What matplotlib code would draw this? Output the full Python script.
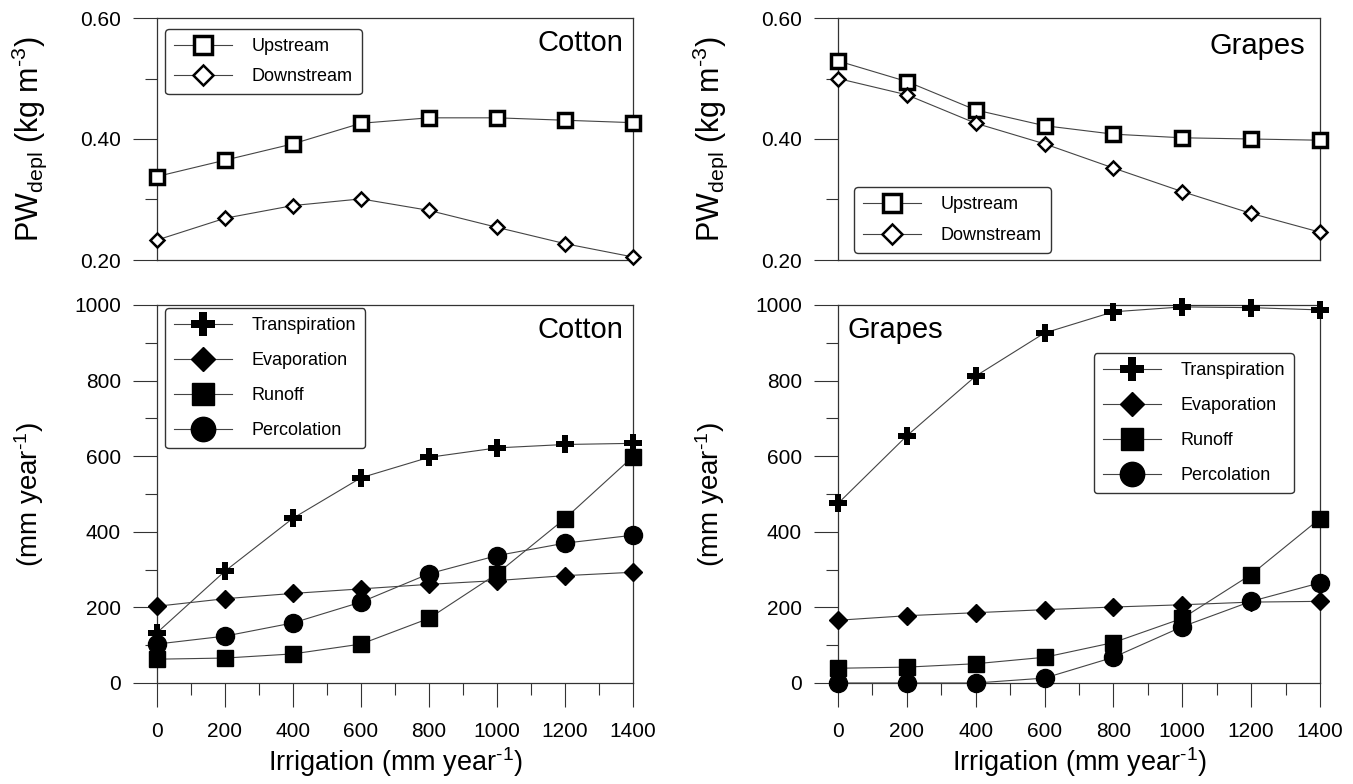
import numpy as np
import matplotlib
matplotlib.use("Agg")
import matplotlib.pyplot as plt
from matplotlib.ticker import MultipleLocator, FormatStrFormatter

plt.rcParams['font.family'] = ['Liberation Sans', 'DejaVu Sans']
plt.rcParams['mathtext.fontset'] = 'custom'
plt.rcParams['mathtext.rm'] = 'Liberation Sans'
plt.rcParams['mathtext.it'] = 'Liberation Sans'

irrigation = [0, 200, 400, 600, 800, 1000, 1200, 1400]

# water productivity (kg m-3)
cotton_up = [0.338, 0.365, 0.392, 0.426, 0.435, 0.435, 0.431, 0.427]
cotton_down = [0.233, 0.269, 0.290, 0.301, 0.282, 0.254, 0.227, 0.205]
grapes_up = [0.529, 0.495, 0.448, 0.422, 0.408, 0.402, 0.400, 0.398]
grapes_down = [0.500, 0.473, 0.426, 0.392, 0.352, 0.313, 0.277, 0.246]

# water balance terms (mm year-1)
cotton_transp = [133, 296, 436, 543, 597, 622, 631, 634]
cotton_evap = [203, 223, 237, 249, 261, 271, 284, 293]
cotton_runoff = [63, 66, 77, 103, 171, 289, 435, 599]
cotton_perc = [103, 124, 159, 214, 289, 337, 370, 391]
grapes_transp = [475, 654, 812, 926, 982, 995, 993, 987]
grapes_evap = [166, 178, 186, 194, 201, 207, 214, 216]
grapes_runoff = [39, 42, 51, 68, 107, 171, 287, 435]
grapes_perc = [0, 0, 0, 13, 68, 149, 216, 265]

W, H = 1353, 784
fig = plt.figure(figsize=(W/100, H/100), dpi=100)

def frac(l, t, r, b):
    return [l/W, 1-b/H, (r-l)/W, (b-t)/H]

ax_tl = fig.add_axes(frac(157, 18, 633, 260))
ax_tr = fig.add_axes(frac(838, 18, 1320, 260))
ax_bl = fig.add_axes(frac(157, 305, 633, 683))
ax_br = fig.add_axes(frac(838, 305, 1320, 683))

lc = '#444444'
hy = '\u2010'

def style(ax, top):
    ax.set_xlim(0, 1400)
    for s in ax.spines.values():
        s.set_linewidth(0.9)
        s.set_color('#333333')
    ax.tick_params(which='major', direction='out', length=17, width=0.8,
                   labelsize=15, color='#333333')
    ax.tick_params(which='minor', direction='out', length=8.5, width=0.8,
                   color='#333333')
    ax.tick_params(axis='y', which='major', pad=9)
    if top:
        ax.set_ylim(0.2, 0.6)
        ax.yaxis.set_major_locator(MultipleLocator(0.2))
        ax.yaxis.set_minor_locator(MultipleLocator(0.1))
        ax.yaxis.set_major_formatter(FormatStrFormatter('%.2f'))
        ax.tick_params(axis='x', which='both', bottom=False, labelbottom=False)
        ax.set_ylabel('PW$_{\\mathrm{depl}}$ (kg m$^{' + hy + '3}$)',
                      fontsize=22, labelpad=22)
    else:
        ax.set_ylim(0, 1000)
        ax.yaxis.set_major_locator(MultipleLocator(200))
        ax.yaxis.set_minor_locator(MultipleLocator(100))
        ax.xaxis.set_major_locator(MultipleLocator(200))
        ax.xaxis.set_minor_locator(MultipleLocator(100))
        ax.set_ylabel('(mm year$^{' + hy + '1}$)', fontsize=20, labelpad=20)
        ax.set_xlabel('Irrigation (mm year$^{' + hy + '1}$)', fontsize=19.5,
                      labelpad=3)
        ax.tick_params(axis='x', which='major', pad=11)

def pw(ax, up, down):
    ax.plot(irrigation, up, color=lc, lw=0.8, marker='s', ms=10, mfc='white',
            mec='black', mew=2.5, label='Upstream', clip_on=False, zorder=3)
    ax.plot(irrigation, down, color=lc, lw=0.8, marker='D', ms=7.5, mfc='white',
            mec='black', mew=1.8, label='Downstream', clip_on=False, zorder=3)

def wb(ax, tr, ev, ro, pe):
    kw = dict(color=lc, lw=0.8, mfc='black', mec='black', clip_on=False, zorder=3)
    ax.plot(irrigation, tr, marker='P', ms=13, mew=0, label='Transpiration', **kw)
    ax.plot(irrigation, ev, marker='D', ms=9, label='Evaporation', **kw)
    ax.plot(irrigation, ro, marker='s', ms=12, label='Runoff', **kw)
    ax.plot(irrigation, pe, marker='o', ms=13, label='Percolation', **kw)

leg_kw = dict(fancybox=True, framealpha=1, edgecolor='#333333', fontsize=13,
              handlelength=3.2, markerscale=1.35, borderpad=0.5,
              handletextpad=1.1, borderaxespad=0)

style(ax_tl, True)
pw(ax_tl, cotton_up, cotton_down)
ax_tl.legend(loc='upper left', bbox_to_anchor=(0.017, 0.955),
             labelspacing=0.75, **leg_kw)
ax_tl.text(0.979, 0.897, 'Cotton', transform=ax_tl.transAxes, ha='right',
           va='center', fontsize=21)

style(ax_tr, True)
pw(ax_tr, grapes_up, grapes_down)
ax_tr.legend(loc='lower left', bbox_to_anchor=(0.033, 0.029),
             labelspacing=0.75, **leg_kw)
ax_tr.text(0.969, 0.884, 'Grapes', transform=ax_tr.transAxes, ha='right',
           va='center', fontsize=21)

style(ax_bl, False)
wb(ax_bl, cotton_transp, cotton_evap, cotton_runoff, cotton_perc)
ax_bl.legend(loc='upper left', bbox_to_anchor=(0.017, 0.992),
             labelspacing=1.0, **leg_kw)
ax_bl.text(0.979, 0.934, 'Cotton', transform=ax_bl.transAxes, ha='right',
           va='center', fontsize=21)

style(ax_br, False)
wb(ax_br, grapes_transp, grapes_evap, grapes_runoff, grapes_perc)
ax_br.legend(loc='upper right', bbox_to_anchor=(0.946, 0.873),
             labelspacing=1.0, **leg_kw)
ax_br.text(0.019, 0.934, 'Grapes', transform=ax_br.transAxes, ha='left',
           va='center', fontsize=21)

fig.savefig('out.png', dpi=100)
